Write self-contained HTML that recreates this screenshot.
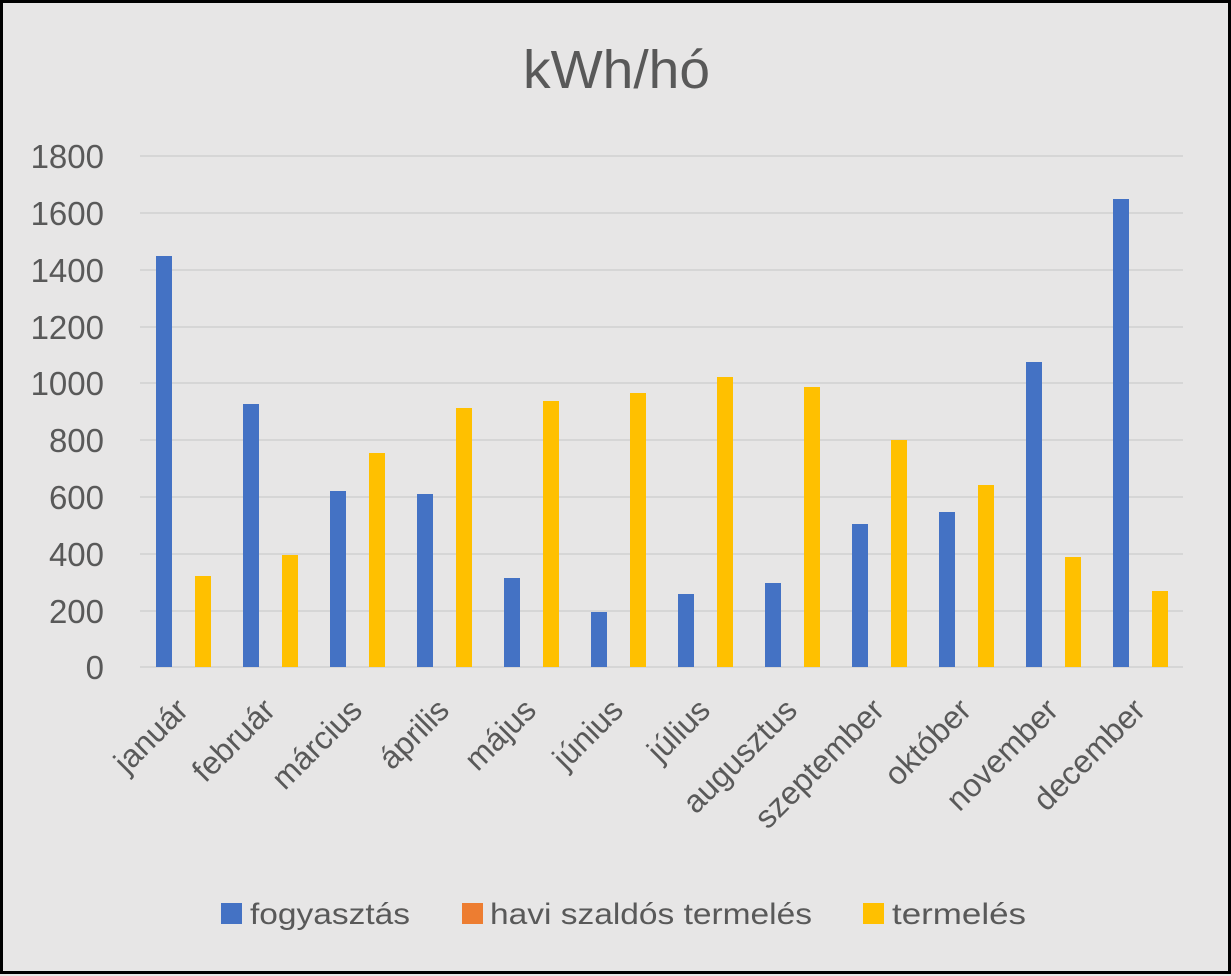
<!DOCTYPE html>
<html><head><meta charset="utf-8"><style>
html,body{margin:0;padding:0;background:#e7e6e6;}
svg{display:block;font-family:"Liberation Sans",sans-serif;}
</style></head><body>
<svg width="1231" height="976" viewBox="0 0 1231 976" xmlns="http://www.w3.org/2000/svg">
<rect x="1.5" y="1.5" width="1228" height="971" fill="#e7e6e6" stroke="#000" stroke-width="3"/>
<text x="523" y="88" font-size="54" fill="#595959" textLength="187" lengthAdjust="spacingAndGlyphs">kWh/hó</text>
<g stroke="#d6d6d6" stroke-width="2">
<line x1="140" x2="1183" y1="156" y2="156"/><line x1="140" x2="1183" y1="213" y2="213"/>
<line x1="140" x2="1183" y1="270" y2="270"/><line x1="140" x2="1183" y1="327" y2="327"/>
<line x1="140" x2="1183" y1="383" y2="383"/><line x1="140" x2="1183" y1="440" y2="440"/>
<line x1="140" x2="1183" y1="497" y2="497"/><line x1="140" x2="1183" y1="554" y2="554"/>
<line x1="140" x2="1183" y1="611" y2="611"/><line x1="140" x2="1183" y1="667" y2="667"/>
</g>
<g font-size="33" fill="#595959" text-anchor="end">
<text x="104" y="168">1800</text><text x="104" y="225">1600</text><text x="104" y="282">1400</text>
<text x="104" y="339">1200</text><text x="104" y="395">1000</text><text x="104" y="452">800</text>
<text x="104" y="509">600</text><text x="104" y="566">400</text><text x="104" y="623">200</text>
<text x="104" y="679">0</text>
</g>
<g fill="#4472c4">
<rect x="156" y="256" width="16" height="411"/>
<rect x="243" y="404" width="16" height="263"/>
<rect x="330" y="491" width="16" height="176"/>
<rect x="417" y="494" width="16" height="173"/>
<rect x="504" y="578" width="16" height="89"/>
<rect x="591" y="612" width="16" height="55"/>
<rect x="678" y="594" width="16" height="73"/>
<rect x="765" y="583" width="16" height="84"/>
<rect x="852" y="524" width="16" height="143"/>
<rect x="939" y="512" width="16" height="155"/>
<rect x="1026" y="362" width="16" height="305"/>
<rect x="1113" y="199" width="16" height="468"/>
</g>
<g fill="#ffc000">
<rect x="195" y="576" width="16" height="91"/>
<rect x="282" y="555" width="16" height="112"/>
<rect x="369" y="453" width="16" height="214"/>
<rect x="456" y="408" width="16" height="259"/>
<rect x="543" y="401" width="16" height="266"/>
<rect x="630" y="393" width="16" height="274"/>
<rect x="717" y="377" width="16" height="290"/>
<rect x="804" y="387" width="16" height="280"/>
<rect x="891" y="440" width="16" height="227"/>
<rect x="978" y="485" width="16" height="182"/>
<rect x="1065" y="557" width="16" height="110"/>
<rect x="1152" y="591" width="16" height="76"/>
</g>
<g font-size="32" fill="#595959" text-anchor="end">
<text transform="translate(190,712) rotate(-45)">január</text>
<text transform="translate(277,712) rotate(-45)">február</text>
<text transform="translate(364,712) rotate(-45)">március</text>
<text transform="translate(451,712) rotate(-45)">április</text>
<text transform="translate(538,712) rotate(-45)">május</text>
<text transform="translate(625,712) rotate(-45)">június</text>
<text transform="translate(712,712) rotate(-45)">július</text>
<text transform="translate(799,712) rotate(-45)">augusztus</text>
<text transform="translate(886,712) rotate(-45)">szeptember</text>
<text transform="translate(973,712) rotate(-45)">október</text>
<text transform="translate(1060,712) rotate(-45)">november</text>
<text transform="translate(1147,712) rotate(-45)">december</text>
</g>
<rect x="221" y="903" width="21" height="21" fill="#4472c4"/>
<rect x="462" y="903" width="21" height="21" fill="#ed7d31"/>
<rect x="863" y="903" width="21" height="21" fill="#ffc000"/>
<g font-size="30" fill="#595959">
<text x="250" y="924" textLength="160" lengthAdjust="spacingAndGlyphs">fogyasztás</text>
<text x="490" y="924" textLength="322" lengthAdjust="spacingAndGlyphs">havi szaldós termelés</text>
<text x="892" y="924" textLength="134" lengthAdjust="spacingAndGlyphs">termelés</text>
</g>
</svg>
</body></html>
